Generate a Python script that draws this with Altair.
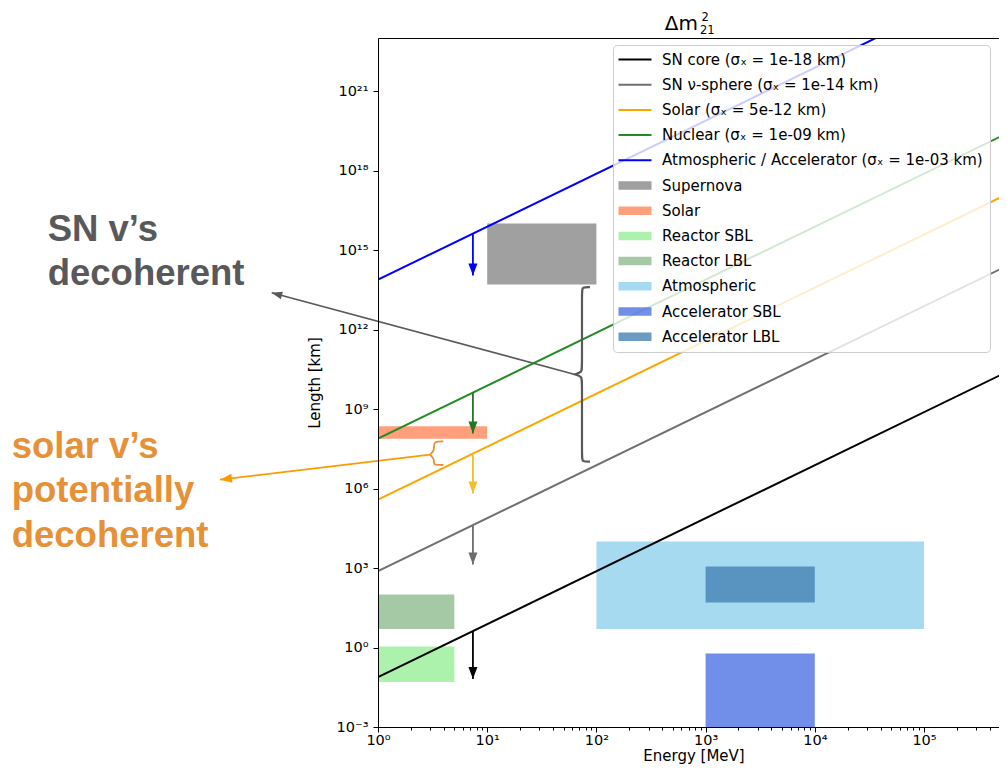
import json
import altair as alt
import pandas as pd

# ---------------- values ----------------
line_names = [
    "SN core (σₓ = 1e-18 km)",
    "SN ν-sphere (σₓ = 1e-14 km)",
    "Solar (σₓ = 5e-12 km)",
    "Nuclear (σₓ = 1e-09 km)",
    "Atmospheric / Accelerator (σₓ = 1e-03 km)",
]
line_colors = ["#000000", "#707070", "#ffa500", "#228b22", "#0000ff"]
line_E = [1.0, 1.0e6]                                      # MeV (end points)
line_L_at_E0 = [0.076, 760.0, 3.8e5, 7.6e7, 7.6e13]        # km at 1 MeV
line_L_at_E1 = [7.6e10, 7.6e14, 3.8e17, 7.6e19, 7.6e25]    # km at 1e6 MeV

rect_names = ["Supernova", "Solar", "Reactor SBL", "Reactor LBL",
              "Atmospheric", "Accelerator SBL", "Accelerator LBL"]
rect_colors = ["rgba(128,128,128,0.75)", "rgba(255,127,80,0.75)", "rgba(144,238,144,0.75)",
               "rgba(143,188,143,0.8)", "rgba(135,206,235,0.75)", "rgba(65,105,225,0.75)",
               "rgba(70,130,180,0.8)"]
rect_E_lo = [10, 1, 1, 1, 100, 1e3, 1e3]
rect_E_hi = [100, 10, 5, 5, 1e5, 1e4, 1e4]
rect_L_lo = [5e13, 7.5e7, 0.05, 5, 5, 1e-3, 50]
rect_L_hi = [1e16, 2.25e8, 1.1, 100, 1e4, 0.6, 1150]

arrow_E = [7.4, 7.4, 7.4, 7.4, 7.4]
arrow_L_from = [4.2, 4.2e4, 2.1e7, 4.2e9, 4.2e15]
arrow_L_to = [0.065, 1.35e3, 6.5e5, 1.2e8, 1.1e14]
arrow_colors = ["#000000", "#6e6e6e", "#f5bd2a", "#247524", "#0000ff"]

x_major = [1, 10, 100, 1000, 10000, 100000]
x_major_labels = ["10⁰", "10¹", "10²", "10³", "10⁴", "10⁵"]
y_major = [1e-3, 1, 1e3, 1e6, 1e9, 1e12, 1e15, 1e18, 1e21]
y_major_labels = ["10⁻³", "10⁰", "10³", "10⁶", "10⁹", "10¹²", "10¹⁵", "10¹⁸", "10²¹"]
PLOT_W = 621
x_domain = [1, 10 ** (PLOT_W / 109.2)]
y_domain = [1e-3, 1e23]

# annotation geometry in log10 data units (x = log10 E, y = log10 L)
sn_brace_lx = [1.941, 1.868, 1.868, 1.868, 1.868, 1.804, 1.804, 1.804, 1.868, 1.868, 1.868, 1.868, 1.941]
sn_brace_ly = [13.598, 13.598, 13.45, 10.55, 10.40, 10.305, 10.305, 10.305, 10.21, 10.06, 7.16, 7.011, 7.011]
sn_arrow_lx = [1.804, -0.9734]
sn_arrow_ly = [10.305, 13.383]
sol_brace_lx = [0.598, 0.5128, 0.5128, 0.5128, 0.4762, 0.4762, 0.4762, 0.5128, 0.5128, 0.5128, 0.598]
sol_brace_ly = [7.776, 7.776, 7.576, 7.425, 7.275, 7.275, 7.275, 7.124, 6.974, 6.887, 6.887]
sol_arrow_lx = [0.4762, -1.4469]
sol_arrow_ly = [7.275, 6.334]

sn_text = "SN v’s\ndecoherent"
sn_text_pos = (-3.0247, 15.34)
sol_text = "solar v’s\npotentially\ndecoherent"
sol_text_pos = (-3.3544, 7.162)
title_main = ("Δm", 2.9304, 23.297)
title_sup = ("2", 2.9625, 23.658)
title_sub = ("21", 2.9487, 23.150)

FONT = "DejaVu Sans"
GRAY_ANN = "#595959"
ORANGE_TXT = "#e69138"
ORANGE_ARR = "#ff9900"

# legend symbols: both shapes share the same bounding box so every row has the same height
LINE_PATH = "M-1.8,-0.85L-1.8,-0.85M-1.8,0H4.8M-1.8,0.85L-1.8,0.85"
PATCH_PATH = "M-1.8,-0.85H4.8V0.85H-1.8Z"
HEAD_PATH = "M-0.75,2L0.75,2L0,0Z"


def js(v):
    return json.dumps(v, ensure_ascii=False)


x_scale = alt.Scale(type="log", domain=x_domain, nice=False)
y_scale = alt.Scale(type="log", domain=y_domain, nice=False)

x_minor = [m * 10 ** k for k in range(0, 6) for m in range(2, 10) if m * 10 ** k <= x_domain[1]]
major_test = f"indexof({js(x_major)}, datum.value) >= 0"

x_axis_bottom = alt.Axis(
    values=x_major + x_minor,
    labelExpr=f"{js(x_major_labels)}[indexof({js(x_major)}, datum.value)] || ''",
    tickSize={"condition": {"test": major_test, "value": 5}, "value": 3},
    title="Energy [MeV]", titleFont=FONT, titleFontSize=15, titleFontWeight="normal",
    titleColor="black", titlePadding=2, titleX=315.5,
    labelFont=FONT, labelFontSize=14.5, labelColor="black", labelPadding=1,
    labelFlush=False, labelOverlap=False,
    domainColor="black", domainWidth=1, tickColor="black", tickWidth=1,
    grid=False, zindex=1,
)
x_axis_top = alt.Axis(orient="top", labels=False, ticks=False, domain=True,
                      domainColor="black", domainWidth=1, title=None, grid=False, zindex=1)
y_axis = alt.Axis(
    orient="left",
    values=y_major,
    labelExpr=f"{js(y_major_labels)}[indexof({js(y_major)}, datum.value)] || ''",
    tickSize=5, title="Length [km]", titleFont=FONT, titleFontSize=15,
    titleFontWeight="normal", titleColor="black", titlePadding=14,
    labelFont=FONT, labelFontSize=14.5, labelColor="black", labelPadding=5,
    labelFlush=False, labelOverlap=False,
    domainColor="black", domainWidth=1, tickColor="black", tickWidth=1,
    grid=False, zindex=1,
)

all_names = line_names + rect_names
stroke_scale = alt.Scale(domain=all_names, range=line_colors + ["transparent"] * len(rect_names))
fill_scale = alt.Scale(domain=all_names, range=["transparent"] * len(line_names) + rect_colors)
shape_scale = alt.Scale(domain=all_names,
                        range=[LINE_PATH] * len(line_names) + [PATCH_PATH] * len(rect_names))

legend = alt.Legend(
    title=None, orient="none", legendX=235, legendY=7,
    symbolSize=100, symbolStrokeWidth=2, symbolOpacity=1,
    symbolFillColor="transparent", symbolStrokeColor="transparent",
    labelFont=FONT, labelFontSize=15, labelColor="black", labelOffset=27, labelLimit=600,
    rowPadding=8.2, padding=7, fillColor="rgba(255,255,255,0.8)",
    strokeColor="#cccccc", cornerRadius=4,
)

# ---- rectangles (experiments) ----
df_rect = pd.DataFrame({"name": rect_names, "E0": rect_E_lo, "E1": rect_E_hi,
                        "L0": rect_L_lo, "L1": rect_L_hi})
rects = alt.Chart(df_rect).mark_rect(clip=True, strokeWidth=0).encode(
    x=alt.X("E0:Q", scale=x_scale, axis=x_axis_bottom),
    x2="E1:Q",
    y=alt.Y("L0:Q", scale=y_scale, axis=y_axis),
    y2="L1:Q",
    fill=alt.Fill("name:N", scale=fill_scale, legend=None),
)

# ---- coherence-length lines ----
rows = []
for n, a, b in zip(line_names, line_L_at_E0, line_L_at_E1):
    rows.append({"name": n, "E": line_E[0], "L": a})
    rows.append({"name": n, "E": line_E[1], "L": b})
lines = alt.Chart(pd.DataFrame(rows)).mark_line(clip=True, strokeWidth=2).encode(
    x=alt.X("E:Q", scale=x_scale, axis=x_axis_top),
    y=alt.Y("L:Q", scale=y_scale, axis=None),
    stroke=alt.Stroke("name:N", scale=stroke_scale, legend=None),
)

# ---- invisible layer that carries the combined legend ----
df_leg = pd.DataFrame({"name": all_names, "E": [x_domain[0]] * len(all_names),
                       "L": [y_domain[0]] * len(all_names)})
legend_layer = alt.Chart(df_leg).mark_point(opacity=0, clip=True).encode(
    x=alt.X("E:Q", scale=x_scale, axis=None),
    y=alt.Y("L:Q", scale=y_scale, axis=None),
    fill=alt.Fill("name:N", scale=fill_scale, legend=legend),
    stroke=alt.Stroke("name:N", scale=stroke_scale, legend=legend),
    shape=alt.Shape("name:N", scale=shape_scale, legend=legend),
)

# ---- vertical arrows ----
df_arr = pd.DataFrame({"E": arrow_E, "L0": arrow_L_from, "L1": arrow_L_to, "col": arrow_colors})
arr_rules = alt.Chart(df_arr).mark_rule(strokeWidth=1.8, clip=False).encode(
    x=alt.X("E:Q", scale=x_scale, axis=None),
    y=alt.Y("L0:Q", scale=y_scale, axis=None),
    y2="L1:Q",
    stroke=alt.Stroke("col:N", scale=None, legend=None),
)

# ---- arrow heads (vertical + annotation arrows) ----
head_rows = [{"x": e, "y": l, "ang": 180, "sz": 144, "col": c}
             for e, l, c in zip(arrow_E, arrow_L_to, arrow_colors)]
head_rows.append({"x": 10 ** sn_arrow_lx[1], "y": 10 ** sn_arrow_ly[1], "ang": 285, "sz": 110, "col": GRAY_ANN})
head_rows.append({"x": 10 ** sol_arrow_lx[1], "y": 10 ** sol_arrow_ly[1], "ang": 263, "sz": 144, "col": ORANGE_ARR})
heads = alt.Chart(pd.DataFrame(head_rows)).mark_point(
    shape=HEAD_PATH, filled=True, opacity=1, strokeWidth=0, clip=False
).encode(
    x=alt.X("x:Q", scale=x_scale, axis=None),
    y=alt.Y("y:Q", scale=y_scale, axis=None),
    angle=alt.Angle("ang:Q", scale=None),
    size=alt.Size("sz:Q", scale=None, legend=None),
    fill=alt.Fill("col:N", scale=None, legend=None),
)

# ---- braces and annotation arrow shafts ----
ann = []
for g, lxs, lys, col, w in [
    ("sn_brace", sn_brace_lx, sn_brace_ly, GRAY_ANN, 2.2),
    ("sn_arrow", sn_arrow_lx, sn_arrow_ly, GRAY_ANN, 1.6),
    ("sol_brace", sol_brace_lx, sol_brace_ly, ORANGE_TXT, 1.8),
    ("sol_arrow", sol_arrow_lx, sol_arrow_ly, ORANGE_ARR, 1.8),
]:
    for i, (a, b) in enumerate(zip(lxs, lys)):
        ann.append({"g": g, "i": i, "x": 10 ** a, "y": 10 ** b, "col": col, "w": w})
ann_lines = alt.Chart(pd.DataFrame(ann)).mark_line(interpolate="basis", clip=False).encode(
    x=alt.X("x:Q", scale=x_scale, axis=None),
    y=alt.Y("y:Q", scale=y_scale, axis=None),
    detail="g:N",
    order="i:Q",
    stroke=alt.Stroke("col:N", scale=None, legend=None),
    strokeWidth=alt.StrokeWidth("w:Q", scale=None, legend=None),
)


# ---- texts ----
def text_layer(txt, lx, ly, **kw):
    df = pd.DataFrame({"t": [txt], "x": [10 ** lx], "y": [10 ** ly]})
    return alt.Chart(df).mark_text(clip=False, baseline="alphabetic", **kw).encode(
        x=alt.X("x:Q", scale=x_scale, axis=None),
        y=alt.Y("y:Q", scale=y_scale, axis=None),
        text="t:N",
    )


sn_t = text_layer(sn_text, *sn_text_pos, align="left", font="Liberation Sans",
                  fontWeight="bold", fontSize=36.5, color=GRAY_ANN, lineBreak="\n", lineHeight=44.5)
sol_t = text_layer(sol_text, *sol_text_pos, align="left", font="Liberation Sans",
                   fontWeight="bold", fontSize=36.5, color=ORANGE_TXT, lineBreak="\n", lineHeight=44.5)
t_main = text_layer(title_main[0], title_main[1], title_main[2], align="right",
                    font=FONT, fontSize=20, color="black")
t_sup = text_layer(title_sup[0], title_sup[1], title_sup[2], align="left",
                   font=FONT, fontSize=11.5, color="black")
t_sub = text_layer(title_sub[0], title_sub[1], title_sub[2], align="left",
                   font=FONT, fontSize=11.5, color="black")

chart = alt.layer(
    rects, lines, legend_layer, arr_rules, heads, ann_lines, sn_t, sol_t, t_main, t_sup, t_sub
).resolve_axis(x="independent", y="independent").resolve_legend(
    fill="independent", stroke="independent", shape="independent"
).properties(
    width=PLOT_W, height=689,
    autosize=alt.AutoSizeParams(type="none"),
    padding={"left": 370, "top": 30, "right": 0, "bottom": 40},
    background="white",
).configure_view(stroke=None)

chart.save("out.html", embed_options={"renderer": "svg", "actions": False})
